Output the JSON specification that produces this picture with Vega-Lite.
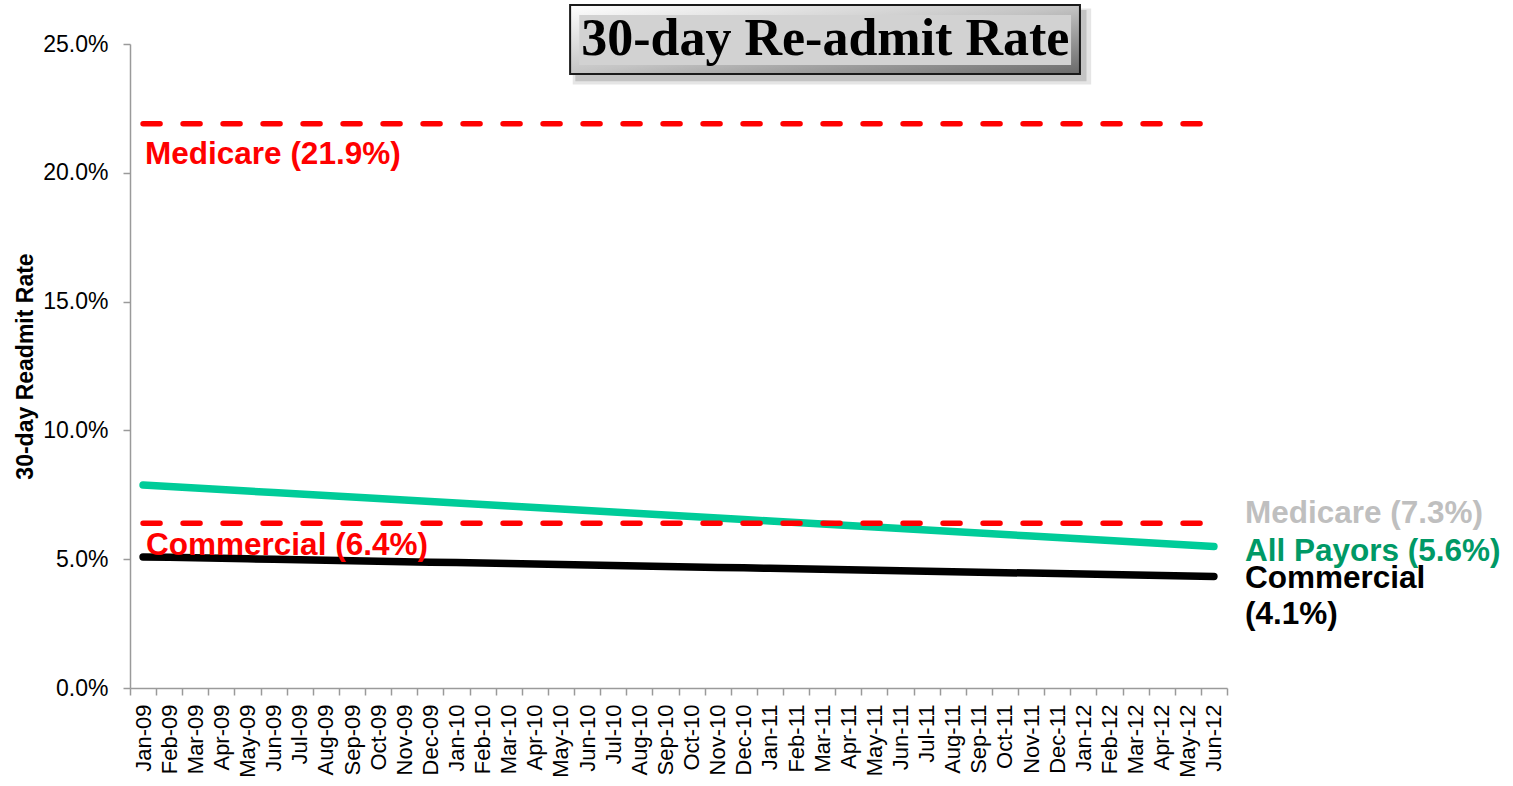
{
  "$schema": "https://vega.github.io/schema/vega-lite/v6.json",
  "autosize": {"type": "none"},
  "width": 1097,
  "height": 644,
  "padding": {"left": 130, "top": 44, "right": 286, "bottom": 98},
  "background": "white",
  "config": {
    "view": {"stroke": null},
    "font": "Liberation Sans",
    "axis": {
      "domainColor": "#9A9A9A",
      "domainWidth": 1.5,
      "tickColor": "#9A9A9A",
      "tickWidth": 1.5,
      "tickSize": 7,
      "grid": false,
      "labelFont": "Liberation Sans",
      "labelFontSize": 22,
      "labelColor": "#000000",
      "titleFont": "Liberation Sans",
      "titleColor": "#000000"
    }
  },
  "datasets": {
    "rates": [
      {"m": "Jan-09", "all": 0.07880, "com": 0.05090},
      {"m": "Feb-09", "all": 0.07822, "com": 0.05071},
      {"m": "Mar-09", "all": 0.07763, "com": 0.05053},
      {"m": "Apr-09", "all": 0.07705, "com": 0.05034},
      {"m": "May-09", "all": 0.07647, "com": 0.05016},
      {"m": "Jun-09", "all": 0.07589, "com": 0.04997},
      {"m": "Jul-09", "all": 0.07530, "com": 0.04979},
      {"m": "Aug-09", "all": 0.07472, "com": 0.04960},
      {"m": "Sep-09", "all": 0.07414, "com": 0.04942},
      {"m": "Oct-09", "all": 0.07355, "com": 0.04923},
      {"m": "Nov-09", "all": 0.07297, "com": 0.04905},
      {"m": "Dec-09", "all": 0.07239, "com": 0.04886},
      {"m": "Jan-10", "all": 0.07180, "com": 0.04868},
      {"m": "Feb-10", "all": 0.07122, "com": 0.04849},
      {"m": "Mar-10", "all": 0.07064, "com": 0.04830},
      {"m": "Apr-10", "all": 0.07006, "com": 0.04812},
      {"m": "May-10", "all": 0.06947, "com": 0.04793},
      {"m": "Jun-10", "all": 0.06889, "com": 0.04775},
      {"m": "Jul-10", "all": 0.06831, "com": 0.04756},
      {"m": "Aug-10", "all": 0.06772, "com": 0.04738},
      {"m": "Sep-10", "all": 0.06714, "com": 0.04719},
      {"m": "Oct-10", "all": 0.06656, "com": 0.04701},
      {"m": "Nov-10", "all": 0.06597, "com": 0.04682},
      {"m": "Dec-10", "all": 0.06539, "com": 0.04664},
      {"m": "Jan-11", "all": 0.06481, "com": 0.04645},
      {"m": "Feb-11", "all": 0.06423, "com": 0.04627},
      {"m": "Mar-11", "all": 0.06364, "com": 0.04608},
      {"m": "Apr-11", "all": 0.06306, "com": 0.04589},
      {"m": "May-11", "all": 0.06248, "com": 0.04571},
      {"m": "Jun-11", "all": 0.06189, "com": 0.04552},
      {"m": "Jul-11", "all": 0.06131, "com": 0.04534},
      {"m": "Aug-11", "all": 0.06073, "com": 0.04515},
      {"m": "Sep-11", "all": 0.06014, "com": 0.04497},
      {"m": "Oct-11", "all": 0.05956, "com": 0.04478},
      {"m": "Nov-11", "all": 0.05898, "com": 0.04460},
      {"m": "Dec-11", "all": 0.05840, "com": 0.04441},
      {"m": "Jan-12", "all": 0.05781, "com": 0.04423},
      {"m": "Feb-12", "all": 0.05723, "com": 0.04404},
      {"m": "Mar-12", "all": 0.05665, "com": 0.04386},
      {"m": "Apr-12", "all": 0.05606, "com": 0.04367},
      {"m": "May-12", "all": 0.05548, "com": 0.04349},
      {"m": "Jun-12", "all": 0.05490, "com": 0.04330}
    ],
    "labels": [
      {"key": "medBench", "label": "Medicare (21.9%)", "value": 0.219},
      {"key": "comBench", "label": "Commercial (6.4%)", "value": 0.064},
      {"key": "med", "label": "Medicare (7.3%)", "value": 0.073},
      {"key": "all", "label": "All Payors (5.6%)", "value": 0.056},
      {"key": "com", "label": "Commercial\n(4.1%)", "value": 0.041}
    ],
    "frame": [
      {"part": "shadowA", "x0": 16.95, "x1": 36.8, "y0": 0.2343, "y1": 0.2638},
      {"part": "shadowB", "x0": 17.05, "x1": 36.62, "y0": 0.2355, "y1": 0.2632},
      {"part": "outer", "x0": 16.85, "x1": 36.37, "y0": 0.23835, "y1": 0.26514},
      {"part": "face", "x0": 17.2, "x1": 36.03, "y0": 0.24185, "y1": 0.26126}
    ],
    "heading": [
      {"text": "30-day Re-admit Rate", "x": 26.62, "y": 0.2457}
    ]
  },
  "resolve": {"scale": {"x": "independent"}, "axis": {"x": "independent"}},
  "layer": [
    {
      "data": {"name": "rates"},
      "layer": [
        {
          "mark": {"type": "line", "color": "#00CC99", "strokeWidth": 7.5, "strokeCap": "round"},
          "encoding": {
            "x": {
              "field": "m",
              "type": "ordinal",
              "sort": null,
              "scale": {"type": "band", "paddingInner": 0, "paddingOuter": 0},
              "axis": {
                "title": null,
                "labelAngle": -90,
                "labelAlign": "right",
                "labelBaseline": "middle",
                "labelPadding": 9,
                "tickBand": "extent"
              }
            },
            "y": {
              "field": "all",
              "type": "quantitative",
              "title": "30-day Readmit Rate",
              "scale": {"domain": [0, 0.25], "nice": false},
              "axis": {
                "values": [0, 0.05, 0.1, 0.15, 0.2, 0.25],
                "format": ".1%",
                "labelFontSize": 23,
                "labelPadding": 15,
                "titleFontSize": 23,
                "titleFontWeight": "bold",
                "titleX": -98,
                "titleY": 322,
                "titleBaseline": "alphabetic"
              }
            }
          }
        },
        {
          "mark": {"type": "line", "color": "#000000", "strokeWidth": 7.5, "strokeCap": "round"},
          "encoding": {
            "x": {"field": "m", "type": "ordinal", "sort": null},
            "y": {"field": "com", "type": "quantitative", "title": "30-day Readmit Rate"}
          }
        },
        {
          "mark": {"type": "line", "color": "#FF0000", "strokeWidth": 5.5, "strokeCap": "round", "strokeDash": [17, 23]},
          "encoding": {
            "x": {"field": "m", "type": "ordinal", "sort": null},
            "y": {"datum": 0.219}
          }
        },
        {
          "mark": {"type": "line", "color": "#FF0000", "strokeWidth": 5.5, "strokeCap": "round", "strokeDash": [17, 23]},
          "encoding": {
            "x": {"field": "m", "type": "ordinal", "sort": null},
            "y": {"datum": 0.064}
          }
        },
        {
          "data": {"name": "labels"},
          "transform": [{"filter": "datum.key == 'medBench'"}],
          "mark": {"type": "text", "align": "left", "baseline": "alphabetic", "dx": 2, "dy": 40, "fontSize": 31.5, "fontWeight": "bold", "color": "#FF0000"},
          "encoding": {
            "x": {"datum": "Jan-09"},
            "y": {"field": "value", "type": "quantitative", "title": "30-day Readmit Rate"},
            "text": {"field": "label"}
          }
        },
        {
          "data": {"name": "labels"},
          "transform": [{"filter": "datum.key == 'comBench'"}],
          "mark": {"type": "text", "align": "left", "baseline": "alphabetic", "dx": 3, "dy": 32, "fontSize": 31.5, "fontWeight": "bold", "color": "#FF0000"},
          "encoding": {
            "x": {"datum": "Jan-09"},
            "y": {"field": "value", "type": "quantitative", "title": "30-day Readmit Rate"},
            "text": {"field": "label"}
          }
        },
        {
          "data": {"name": "labels"},
          "transform": [{"filter": "datum.key == 'med'"}],
          "mark": {"type": "text", "align": "left", "baseline": "alphabetic", "dx": 31, "dy": 23, "fontSize": 31.5, "fontWeight": "bold", "color": "#BFBFBF"},
          "encoding": {
            "x": {"datum": "Jun-12"},
            "y": {"field": "value", "type": "quantitative", "title": "30-day Readmit Rate"},
            "text": {"field": "label"}
          }
        },
        {
          "data": {"name": "labels"},
          "transform": [{"filter": "datum.key == 'all'"}],
          "mark": {"type": "text", "align": "left", "baseline": "alphabetic", "dx": 31, "dy": 17, "fontSize": 31.5, "fontWeight": "bold", "color": "#009966"},
          "encoding": {
            "x": {"datum": "Jun-12"},
            "y": {"field": "value", "type": "quantitative", "title": "30-day Readmit Rate"},
            "text": {"field": "label"}
          }
        },
        {
          "data": {"name": "labels"},
          "transform": [{"filter": "datum.key == 'com'"}],
          "mark": {"type": "text", "align": "left", "baseline": "alphabetic", "dx": 31, "dy": 6, "fontSize": 31.5, "fontWeight": "bold", "color": "#000000", "lineBreak": "\n", "lineHeight": 36},
          "encoding": {
            "x": {"datum": "Jun-12"},
            "y": {"field": "value", "type": "quantitative", "title": "30-day Readmit Rate"},
            "text": {"field": "label"}
          }
        }
      ]
    },
    {
      "layer": [
        {
          "data": {"name": "frame"},
          "transform": [{"filter": "datum.part == 'shadowA'"}],
          "mark": {"type": "rect", "fill": "#000000", "opacity": 0.1},
          "encoding": {
            "x": {"field": "x0", "type": "quantitative", "scale": {"domain": [0, 42], "nice": false, "zero": false}, "axis": null},
            "x2": {"field": "x1"},
            "y": {"field": "y0", "type": "quantitative", "title": "30-day Readmit Rate"},
            "y2": {"field": "y1"}
          }
        },
        {
          "data": {"name": "frame"},
          "transform": [{"filter": "datum.part == 'shadowB'"}],
          "mark": {"type": "rect", "fill": "#000000", "opacity": 0.15},
          "encoding": {
            "x": {"field": "x0", "type": "quantitative"},
            "x2": {"field": "x1"},
            "y": {"field": "y0", "type": "quantitative", "title": "30-day Readmit Rate"},
            "y2": {"field": "y1"}
          }
        },
        {
          "data": {"name": "frame"},
          "transform": [{"filter": "datum.part == 'outer'"}],
          "mark": {
            "type": "rect",
            "stroke": "#1A1A1A",
            "strokeWidth": 2,
            "fill": {
              "gradient": "linear",
              "x1": 0, "y1": 0, "x2": 1, "y2": 1,
              "stops": [
                {"offset": 0, "color": "#FFFFFF"},
                {"offset": 0.5, "color": "#C4C4C4"},
                {"offset": 1, "color": "#6A6A6A"}
              ]
            }
          },
          "encoding": {
            "x": {"field": "x0", "type": "quantitative"},
            "x2": {"field": "x1"},
            "y": {"field": "y0", "type": "quantitative", "title": "30-day Readmit Rate"},
            "y2": {"field": "y1"}
          }
        },
        {
          "data": {"name": "frame"},
          "transform": [{"filter": "datum.part == 'face'"}],
          "mark": {"type": "rect", "fill": "#D2D2D2"},
          "encoding": {
            "x": {"field": "x0", "type": "quantitative"},
            "x2": {"field": "x1"},
            "y": {"field": "y0", "type": "quantitative", "title": "30-day Readmit Rate"},
            "y2": {"field": "y1"}
          }
        },
        {
          "data": {"name": "heading"},
          "mark": {"type": "text", "align": "center", "baseline": "alphabetic", "font": "Liberation Serif", "fontWeight": "bold", "fontSize": 52, "color": "#000000"},
          "encoding": {
            "x": {"field": "x", "type": "quantitative"},
            "y": {"field": "y", "type": "quantitative", "title": "30-day Readmit Rate"},
            "text": {"field": "text"}
          }
        }
      ]
    }
  ]
}
